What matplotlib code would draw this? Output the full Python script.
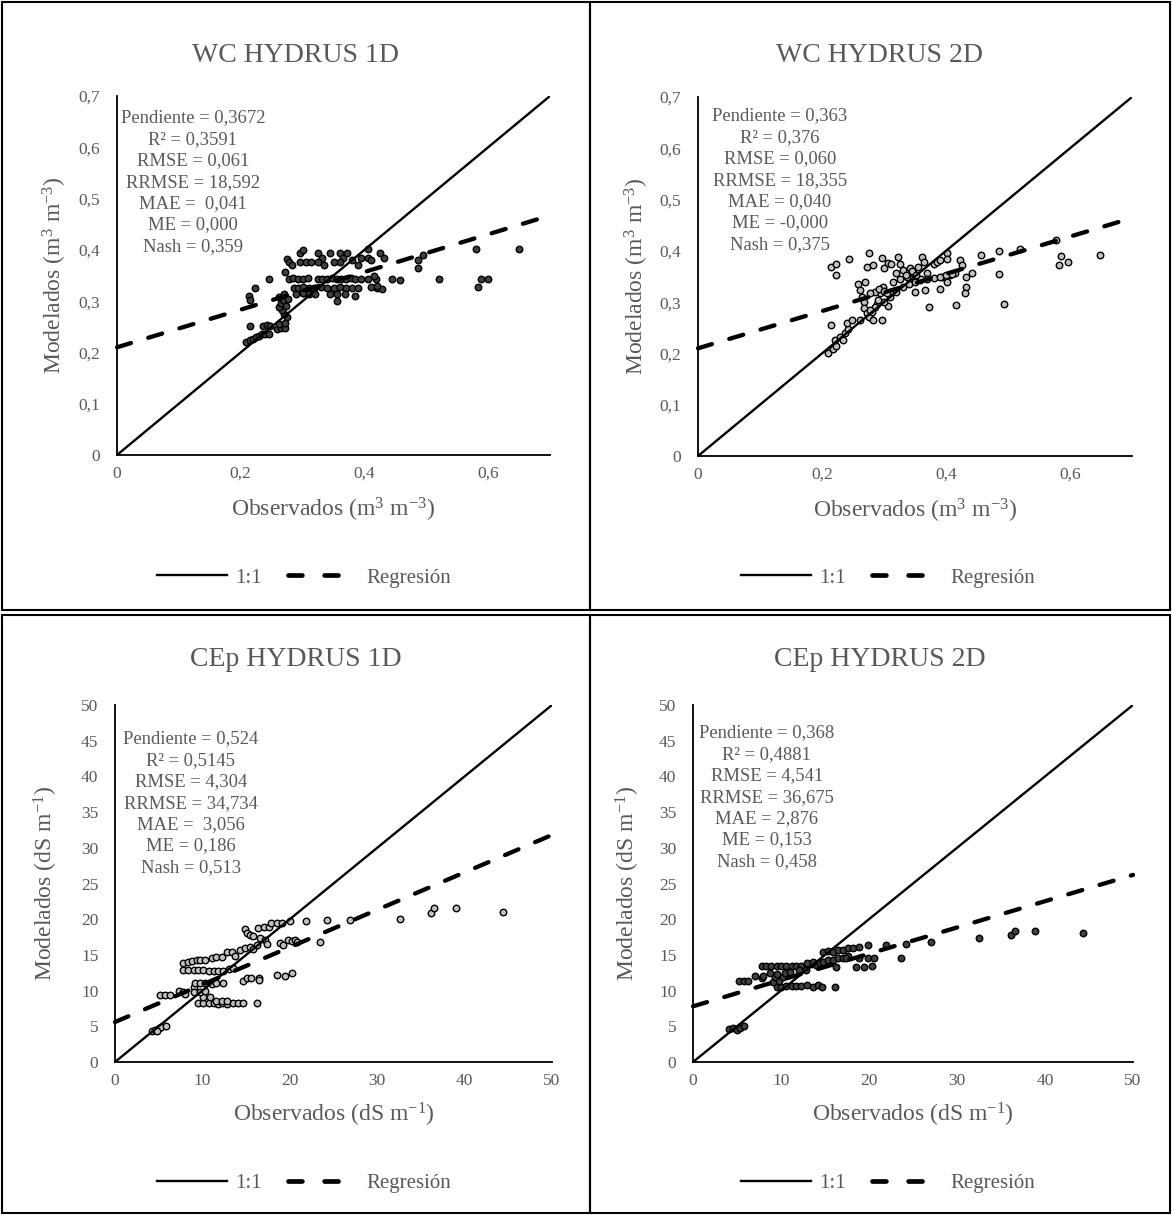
import matplotlib
matplotlib.use("Agg")
import matplotlib.pyplot as plt
from matplotlib.lines import Line2D
from matplotlib.patches import Rectangle
from matplotlib.ticker import FuncFormatter

plt.rcParams['font.family'] = ['Liberation Serif', 'DejaVu Serif']
plt.rcParams['mathtext.fontset'] = 'custom'
plt.rcParams['mathtext.rm'] = 'Liberation Serif'
plt.rcParams['mathtext.it'] = 'Liberation Serif:italic'
plt.rcParams['lines.scale_dashes'] = False

GRAY = '#595959'

# ---------------- data ----------------
titles = ["WC HYDRUS 1D", "WC HYDRUS 2D", "CEp HYDRUS 1D", "CEp HYDRUS 2D"]

wc1d_obs = [
    0.209, 0.215, 0.220, 0.225, 0.230, 0.235, 0.240, 0.245,
    0.215, 0.236, 0.243, 0.248, 0.258, 0.265, 0.272, 0.262, 0.272, 0.275,
    0.270, 0.267, 0.262, 0.265, 0.268, 0.262, 0.270, 0.276, 0.273,
    0.214, 0.215, 0.223, 0.245, 0.272, 0.275, 0.278, 0.283, 0.296, 0.300, 0.296, 0.305, 0.313,
    0.278, 0.285, 0.292, 0.300, 0.308, 0.325, 0.332, 0.340, 0.348, 0.355, 0.362, 0.370, 0.378,
    0.385, 0.395, 0.405, 0.418, 0.445, 0.458,
    0.286, 0.292, 0.300, 0.310, 0.318, 0.330, 0.340, 0.350, 0.360, 0.370, 0.380, 0.390, 0.410,
    0.420, 0.428,
    0.290, 0.300, 0.310, 0.320, 0.345, 0.355, 0.368,
    0.355, 0.385, 0.300,
    0.325, 0.332, 0.345, 0.360, 0.365, 0.372, 0.380, 0.360, 0.395, 0.405, 0.410, 0.405, 0.425,
    0.432, 0.325, 0.335, 0.350, 0.390,
    0.486, 0.486, 0.495, 0.521, 0.580, 0.583, 0.588, 0.599, 0.650, 0.415, 0.420,
]
wc1d_mod = [
    0.221, 0.225, 0.227, 0.230, 0.233, 0.236, 0.236, 0.236,
    0.252, 0.252, 0.254, 0.252, 0.245, 0.248, 0.248, 0.255, 0.258, 0.270,
    0.275, 0.283, 0.289, 0.296, 0.302, 0.309, 0.314, 0.305, 0.290,
    0.310, 0.302, 0.325, 0.344, 0.356, 0.383, 0.376, 0.370, 0.393, 0.400, 0.376, 0.376, 0.376,
    0.344, 0.346, 0.344, 0.344, 0.346, 0.344, 0.344, 0.344, 0.346, 0.344, 0.344, 0.344, 0.346,
    0.344, 0.344, 0.344, 0.344, 0.343, 0.341,
    0.326, 0.326, 0.327, 0.326, 0.326, 0.327, 0.326, 0.326, 0.327, 0.326, 0.326, 0.326, 0.328,
    0.326, 0.324,
    0.313, 0.315, 0.313, 0.313, 0.313, 0.313, 0.313,
    0.300, 0.310, 0.316,
    0.393, 0.385, 0.393, 0.393, 0.385, 0.393, 0.380, 0.376, 0.385, 0.385, 0.380, 0.401, 0.393,
    0.385, 0.376, 0.370, 0.376, 0.370,
    0.364, 0.380, 0.390, 0.344, 0.401, 0.327, 0.344, 0.344, 0.401, 0.350, 0.330,
]

wc2d_obs = [
    0.210, 0.218, 0.223, 0.221, 0.229, 0.234, 0.237, 0.242, 0.240, 0.249, 0.215, 0.261,
    0.258, 0.261, 0.264, 0.267, 0.268, 0.272, 0.275, 0.283, 0.296, 0.280, 0.269, 0.294,
    0.288, 0.306, 0.299,
    0.215, 0.223, 0.223, 0.243, 0.276, 0.272, 0.283, 0.296, 0.300, 0.307, 0.312,
    0.323, 0.326, 0.320, 0.331, 0.337, 0.342, 0.347, 0.355, 0.361, 0.364, 0.358, 0.369,
    0.380, 0.385, 0.390, 0.401, 0.401, 0.393, 0.401, 0.407, 0.415, 0.423, 0.425, 0.433,
    0.433, 0.431, 0.442, 0.456,
    0.350, 0.366, 0.372, 0.390, 0.416, 0.486, 0.493,
    0.485, 0.520, 0.578, 0.583, 0.586, 0.597, 0.648,
    0.310, 0.320, 0.330, 0.340, 0.350, 0.360, 0.370, 0.380, 0.390, 0.400, 0.410, 0.300,
    0.290, 0.285, 0.278, 0.315, 0.325, 0.335, 0.345, 0.352,
    0.285, 0.292, 0.300, 0.305, 0.278,
]
wc2d_mod = [
    0.200, 0.208, 0.214, 0.227, 0.232, 0.226, 0.239, 0.247, 0.260, 0.265, 0.256, 0.266,
    0.336, 0.323, 0.310, 0.300, 0.288, 0.278, 0.271, 0.265, 0.265, 0.281, 0.339, 0.317,
    0.297, 0.292, 0.330,
    0.369, 0.375, 0.353, 0.385, 0.396, 0.369, 0.372, 0.386, 0.366, 0.377, 0.375,
    0.388, 0.375, 0.356, 0.362, 0.349, 0.366, 0.356, 0.369, 0.388, 0.379, 0.343, 0.356,
    0.375, 0.379, 0.382, 0.395, 0.385, 0.349, 0.340, 0.353, 0.356, 0.382, 0.372, 0.349,
    0.330, 0.317, 0.357, 0.392,
    0.319, 0.323, 0.290, 0.325, 0.294, 0.354, 0.297,
    0.399, 0.403, 0.421, 0.372, 0.390, 0.379, 0.392,
    0.310, 0.320, 0.330, 0.335, 0.340, 0.345, 0.345, 0.347, 0.350, 0.352, 0.355, 0.300,
    0.305, 0.290, 0.285, 0.340, 0.345, 0.352, 0.360, 0.352,
    0.320, 0.325, 0.322, 0.318, 0.318,
]

cep1d_obs = [
    4.2, 4.6, 5.0, 5.3, 5.8, 4.8,
    5.2, 5.7, 6.3, 7.3, 7.8, 8.0,
    7.8, 8.4, 9.0, 9.5, 10.1, 10.7, 11.3, 11.8, 12.4, 13.0, 13.5,
    7.8, 8.3, 8.8, 9.4, 9.7, 10.3, 11.1, 11.6, 12.2, 12.8, 13.4, 13.7, 14.3, 14.9, 15.5, 15.8, 16.2,
    14.9, 15.1, 15.5, 15.8, 16.4, 17.0, 17.6, 17.9, 18.5, 19.1, 20.0, 21.9, 24.3, 16.6, 17.2, 17.4,
    18.9, 19.2, 19.8, 20.2, 20.6, 20.8, 23.5, 26.9, 32.6, 36.2, 36.5, 39.0, 44.4,
    9.5, 10.1, 10.7, 11.3, 11.8, 12.2, 12.8, 13.5, 14.1, 14.6, 16.2, 10.1, 10.9, 11.5, 12.2, 12.8,
    9.0, 9.2, 9.7, 10.3, 11.1, 11.5, 12.3, 9.0, 9.7, 10.3,
    14.7, 15.1, 15.6, 16.5, 16.5, 18.5, 19.5, 20.3,
]
cep1d_mod = [
    4.4, 4.5, 4.7, 4.9, 5.1, 4.3,
    9.4, 9.4, 9.4, 10.0, 9.8, 9.5,
    12.9, 12.9, 12.9, 12.9, 12.9, 12.8, 12.8, 12.7, 12.8, 13.0, 13.2,
    13.9, 14.0, 14.2, 14.3, 14.3, 14.3, 14.5, 14.7, 14.7, 15.4, 15.4, 14.9, 15.7, 15.9, 16.1, 15.8, 16.4,
    18.6, 18.1, 17.8, 17.7, 18.8, 18.9, 18.9, 19.4, 19.4, 19.5, 19.7, 19.7, 19.9, 17.3, 17.1, 16.5,
    16.6, 16.4, 17.1, 17.0, 17.1, 16.8, 16.8, 19.9, 20.0, 20.8, 21.6, 21.6, 21.0,
    8.2, 8.2, 8.2, 8.2, 8.1, 8.2, 8.1, 8.3, 8.3, 8.2, 8.3, 9.1, 9.1, 8.6, 8.6, 8.6,
    10.5, 11.0, 11.1, 11.0, 10.9, 11.0, 11.1, 9.8, 9.8, 10.0,
    11.4, 11.8, 11.8, 11.8, 11.5, 12.2, 12.0, 12.4,
]

cep2d_obs = [
    4.1, 4.5, 5.0, 5.3, 5.8,
    5.2, 5.8, 6.3, 7.1, 7.8,
    7.8, 8.3, 8.9, 9.5, 10.0, 10.6, 11.2, 11.7, 12.3, 12.9, 13.4, 14.0, 14.4,
    12.9, 13.6, 14.8, 15.3, 15.9, 16.5, 17.0, 17.6,
    14.8, 15.3, 15.9, 16.5, 17.0, 17.6, 18.2, 18.9, 19.9, 21.9, 24.2, 27.1, 32.5, 36.1, 36.6, 38.9, 44.3,
    18.9, 19.9, 20.6, 18.5, 19.4, 20.3, 23.6, 16.3, 17.4,
    9.5, 10.0, 10.6, 11.2, 11.7, 12.3, 12.9, 13.6, 14.2, 14.7, 16.1, 9.1, 9.8, 10.2, 9.3,
    8.0, 8.7, 9.5, 10.4, 11.0, 12.1, 12.8,
]
cep2d_mod = [
    4.6, 4.7, 4.5, 4.8, 5.1,
    11.4, 11.4, 11.4, 12.1, 11.8,
    13.4, 13.4, 13.4, 13.4, 13.4, 13.4, 13.5, 13.5, 13.5, 13.6, 13.7, 13.6, 13.8,
    13.9, 14.0, 14.0, 14.3, 14.3, 14.5, 14.6, 14.8,
    15.4, 15.6, 15.4, 15.7, 15.7, 15.9, 16.0, 16.1, 16.4, 16.4, 16.5, 16.8, 17.3, 17.8, 18.3, 18.4, 18.0,
    14.5, 14.6, 14.6, 13.3, 13.3, 13.4, 14.6, 13.3, 14.5,
    10.5, 10.5, 10.6, 10.6, 10.6, 10.7, 10.8, 10.5, 10.8, 10.5, 10.5, 11.2, 11.4, 11.9, 11.9,
    12.1, 12.4, 12.3, 12.5, 12.6, 12.9, 12.9,
]

# regression lines (slope, intercept)
slopes = [0.3672, 0.363, 0.524, 0.368]
intercepts = [0.210, 0.210, 5.6, 7.8]

stats_text = [
    ["Pendiente = 0,3672", "R² = 0,3591", "RMSE = 0,061", "RRMSE = 18,592",
     "MAE =  0,041", "ME = 0,000", "Nash = 0,359"],
    ["Pendiente = 0,363", "R² = 0,376", "RMSE = 0,060", "RRMSE = 18,355",
     "MAE = 0,040", "ME = -0,000", "Nash = 0,375"],
    ["Pendiente = 0,524", "R² = 0,5145", "RMSE = 4,304", "RRMSE = 34,734",
     "MAE =  3,056", "ME = 0,186", "Nash = 0,513"],
    ["Pendiente = 0,368", "R² = 0,4881", "RMSE = 4,541", "RRMSE = 36,675",
     "MAE = 2,876", "ME = 0,153", "Nash = 0,458"],
]

wc_ticks_x = [0, 0.2, 0.4, 0.6]
wc_ticks_y = [0, 0.1, 0.2, 0.3, 0.4, 0.5, 0.6, 0.7]
cep_ticks_x = [0, 10, 20, 30, 40, 50]
cep_ticks_y = [0, 5, 10, 15, 20, 25, 30, 35, 40, 45, 50]

wc_xlabel = r"Observados (m$\mathregular{^{3}}$ m$\mathregular{^{-3}}$)"
wc_ylabel = r"Modelados (m$\mathregular{^{3}}$ m$\mathregular{^{-3}}$)"
cep_xlabel = r"Observados (dS m$\mathregular{^{-1}}$)"
cep_ylabel = r"Modelados (dS m$\mathregular{^{-1}}$)"

# ---------------- layout (pixels) ----------------
W, H = 1172, 1215
fig = plt.figure(figsize=(W / 100, H / 100), dpi=100)

def frac_rect(l, r, t, b):
    return [l / W, 1 - b / H, (r - l) / W, (b - t) / H]

axes_px = [(117, 550, 96, 455), (698, 1132, 97, 456),
           (115, 552, 705, 1062), (693, 1133, 705, 1062)]
panels_px = [(2, 590, 2, 610), (590, 1170, 2, 610),
             (2, 590, 615, 1213), (590, 1170, 615, 1213)]
text_px = [(193, 118), (780, 116), (191, 739), (767, 733)]
ylab_x = [-0.143, -0.141, -0.158, -0.148]
xlab_y = [-0.153, -0.153, -0.148, -0.148]
legend_y = [578, 578, 1183, 1183]

datasets = [(wc1d_obs, wc1d_mod), (wc2d_obs, wc2d_mod),
            (cep1d_obs, cep1d_mod), (cep2d_obs, cep2d_mod)]
fills = ['#404040', '#c0c0c0', '#c0c0c0', '#404040']

fmt = FuncFormatter(lambda v, p: ('%g' % round(v, 3)).replace('.', ','))

for i in range(4):
    l, r, t, b = axes_px[i]
    ax = fig.add_axes(frac_rect(l, r, t, b))
    obs, mod = datasets[i]
    is_wc = i < 2
    lim = 0.7 if is_wc else 50
    ax.set_xlim(0, lim)
    ax.set_ylim(0, lim)
    ax.set_xticks(wc_ticks_x if is_wc else cep_ticks_x)
    ax.set_yticks(wc_ticks_y if is_wc else cep_ticks_y)
    ax.xaxis.set_major_formatter(fmt)
    ax.yaxis.set_major_formatter(fmt)
    ax.tick_params(length=0, labelsize=12.5, labelcolor=GRAY)
    ax.tick_params(axis='y', pad=12)
    ax.tick_params(axis='x', pad=8)
    for s in ['top', 'right']:
        ax.spines[s].set_visible(False)
    for s in ['left', 'bottom']:
        ax.spines[s].set_linewidth(1.3)
        ax.spines[s].set_color('black')

    ax.scatter(obs, mod, s=22, facecolor=fills[i], edgecolor='black',
               linewidths=1.0, zorder=3)
    ax.plot([0, lim], [0, lim], color='black', lw=1.7, zorder=4,
            solid_capstyle='butt')
    x0 = 0.0
    ax.plot([x0, lim], [intercepts[i] + slopes[i] * x0, intercepts[i] + slopes[i] * lim],
            color='black', lw=3.1, dashes=(10.5, 13), dash_capstyle='round',
            zorder=5, clip_on=False)

    ax.set_xlabel(wc_xlabel if is_wc else cep_xlabel, fontsize=17, color=GRAY)
    ax.set_ylabel(wc_ylabel if is_wc else cep_ylabel, fontsize=17, color=GRAY)
    ax.xaxis.set_label_coords(0.5, xlab_y[i])
    ax.yaxis.set_label_coords(ylab_x[i], 0.5)
    ax.xaxis.label.set_va('center')
    ax.yaxis.label.set_va('center')

    pl, pr, pt, pb = panels_px[i]
    cx = (pl + pr) / 2
    title_y = 55 if is_wc else 660
    fig.text(cx / W, 1 - title_y / H, titles[i], ha='center', va='center',
             fontsize=20, color=GRAY)

    tx, ty = text_px[i]
    for k, line in enumerate(stats_text[i]):
        fig.text(tx / W, 1 - (ty + k * 21.4) / H, line, ha='center', va='center',
                 fontsize=13.4, color=GRAY)

    fig.add_artist(Rectangle((pl / W, 1 - pb / H), (pr - pl) / W, (pb - pt) / H,
                             transform=fig.transFigure, fill=False,
                             edgecolor='black', lw=1.5))

    handles = [Line2D([], [], color='black', lw=1.7),
               Line2D([], [], color='black', lw=3.4, dashes=(10, 16),
                      dash_capstyle='round')]
    fig.legend(handles, ["1:1", "Regresión"], loc='center',
               bbox_to_anchor=((cx + 8) / W, 1 - legend_y[i] / H), ncol=2,
               frameon=False, fontsize=15, labelcolor=GRAY, handlelength=3.4,
               handletextpad=0.35, columnspacing=1.3)

fig.savefig("out.png", dpi=100)
